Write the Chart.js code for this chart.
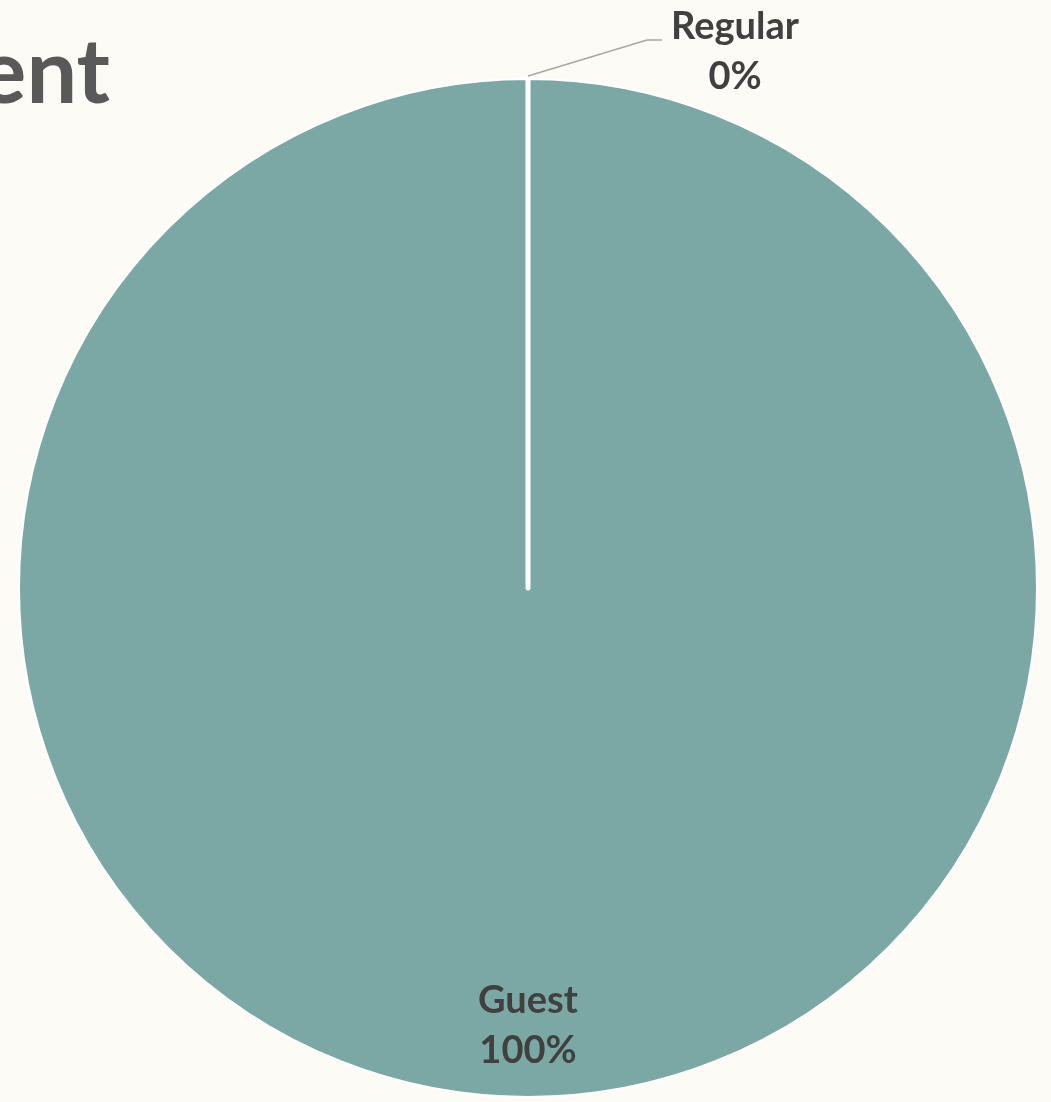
<!DOCTYPE html>
<html>
<head>
<meta charset="utf-8">
<script src="https://cdn.jsdelivr.net/npm/chart.js@4"></script>
<style>
html,body{margin:0;padding:0;background:#fcfbf6;overflow:hidden;}
#wrap{position:relative;width:1051px;height:1102px;}
</style>
</head>
<body>
<div id="wrap"><canvas id="c" width="1051" height="1102"></canvas></div>
<script>
const titleText = "ent";
const categories = ["Guest", "Regular"];
const values = [100, 0];
const sliceColors = ["#7ba8a5", "#c9a66b"];

const total = values.reduce((a, b) => a + b, 0);
const pctLabels = values.map(v => Math.round(v / total * 100) + "%");

const labelPlugin = {
  id: "labels",
  afterDatasetsDraw(chart) {
    const ctx = chart.ctx;
    const meta = chart.getDatasetMeta(0);
    ctx.save();
    // title (cut off at the left edge)
    ctx.fillStyle = "#595959";
    ctx.font = "bold 90px Lato";
    ctx.textAlign = "right";
    ctx.textBaseline = "alphabetic";
    ctx.fillText(titleText, 110, 103);

    // white separator at the start angle
    const a0 = meta.data[0].getProps(["x", "y", "startAngle", "outerRadius"], true);
    ctx.strokeStyle = "#ffffff";
    ctx.lineWidth = 5;
    ctx.lineCap = "round";
    ctx.beginPath();
    ctx.moveTo(a0.x, a0.y);
    ctx.lineTo(a0.x + Math.cos(a0.startAngle) * a0.outerRadius, a0.y + Math.sin(a0.startAngle) * a0.outerRadius);
    ctx.stroke();
    ctx.lineCap = "butt";

    ctx.font = "bold 38px Lato";
    ctx.fillStyle = "#404040";
    ctx.textAlign = "center";
    meta.data.forEach((arc, i) => {
      const p = arc.getProps(["x", "y", "startAngle", "endAngle", "outerRadius"], true);
      if (values[i] > 0) {
        const mid = (p.startAngle + p.endAngle) / 2;
        const r = p.outerRadius * 0.86;
        const cx = p.x + Math.cos(mid) * r;
        const cy = p.y + Math.sin(mid) * r;
        ctx.fillText(categories[i], cx, cy - 13);
        ctx.fillText(pctLabels[i], cx, cy + 37);
      } else {
        const a = p.startAngle;
        const ox = p.x + Math.cos(a) * (p.outerRadius + 3);
        const oy = p.y + Math.sin(a) * (p.outerRadius + 3);
        ctx.strokeStyle = "#a6a6a6";
        ctx.lineWidth = 1.5;
        ctx.beginPath();
        ctx.moveTo(ox, oy);
        ctx.lineTo(ox + 119, oy - 36);
        ctx.lineTo(ox + 134, oy - 36);
        ctx.stroke();
        ctx.fillText(categories[i], ox + 207, oy - 37);
        ctx.fillText(pctLabels[i], ox + 207, oy + 13);
      }
    });
    ctx.restore();
  }
};

new Chart(document.getElementById("c"), {
  type: "pie",
  data: {
    labels: categories,
    datasets: [{
      data: values,
      backgroundColor: sliceColors,
      borderColor: "#ffffff",
      borderWidth: 2,
      borderAlign: "center"
    }]
  },
  options: {
    responsive: false,
    animation: false,
    rotation: 0,
    layout: { padding: { left: 18, right: 13, top: 78, bottom: 4 } },
    plugins: {
      legend: { display: false },
      tooltip: { enabled: false },
      title: { display: false }
    }
  },
  plugins: [labelPlugin]
});
</script>
</body>
</html>
